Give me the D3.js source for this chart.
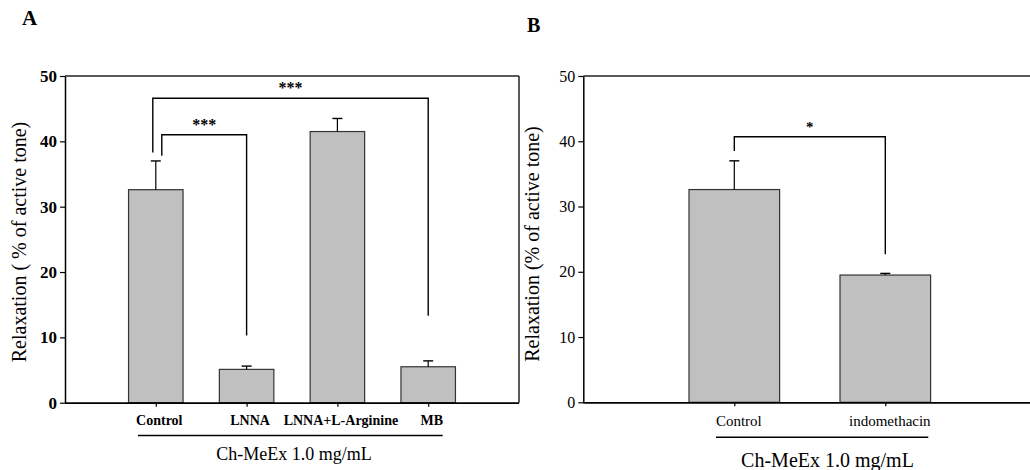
<!DOCTYPE html>
<html>
<head>
<meta charset="utf-8">
<script src="https://cdn.jsdelivr.net/npm/d3@7"></script>
<style>
  html, body { margin: 0; padding: 0; background: #fff; }
  svg { display: block; }
  text { font-family: "Liberation Serif", "Times New Roman", serif; fill: #000; }
</style>
</head>
<body>
<svg id="chart" width="1030" height="470"></svg>
<script>
// ---------- data ----------
const categoriesA = ["Control", "LNNA", "LNNA+L-Arginine", "MB"];
const meansA = [32.6, 5.1, 41.5, 5.5];
const errorsA = [4.4, 0.5, 2.0, 0.9];

const categoriesB = ["Control", "indomethacin"];
const meansB = [32.6, 19.5];
const errorsB = [4.4, 0.25];

const yTickValues = [0, 10, 20, 30, 40, 50];

// significance brackets: [fromIndex, toIndex, leftFoot, top, rightFoot, label]
const bracketsA = [
  [0, 1, 37.8, 41.0, 10.3, "***"],
  [0, 3, 38.3, 46.6, 13.3, "***"]
];
const bracketsB = [
  [0, 1, 38.5, 40.7, 22.7, "*"]
];

const groupLabel = "Ch-MeEx 1.0 mg/mL";

// ---------- drawing ----------
const svg = d3.select("#chart");
const serif = '"Liberation Serif", "Times New Roman", serif';

function panel(opts) {
  const g = svg.append("g");
  const x = d3.scalePoint().domain(opts.cats).range([opts.x0, opts.x1]).padding(1);
  const y = d3.scaleLinear().domain([0, 50]).range([opts.yBottom, opts.yTop]);
  const bw = opts.barWidth;

  // frame (top / right)
  g.append("line").attr("x1", opts.x0).attr("x2", opts.x1).attr("y1", y(50)).attr("y2", y(50))
    .attr("stroke", "#222").attr("stroke-width", 1.7);
  if (opts.rightFrame) {
    g.append("line").attr("x1", opts.x1).attr("x2", opts.x1).attr("y1", y(50)).attr("y2", y(0))
      .attr("stroke", "#222").attr("stroke-width", 1.5);
  }

  // bars
  const data = opts.cats.map((c, i) => ({ c, v: opts.means[i], e: opts.errs[i] }));
  g.selectAll("rect.bar").data(data).enter().append("rect")
    .attr("class", "bar")
    .attr("x", d => x(d.c) - bw / 2)
    .attr("width", bw)
    .attr("y", d => y(d.v))
    .attr("height", d => y(0) - y(d.v))
    .attr("fill", "#c0c0c0")
    .attr("stroke", "#333")
    .attr("stroke-width", 1.2);

  // error bars (upper only)
  g.selectAll("line.err").data(data).enter().append("line")
    .attr("x1", d => x(d.c)).attr("x2", d => x(d.c))
    .attr("y1", d => y(d.v)).attr("y2", d => y(d.v + d.e))
    .attr("stroke", "#000").attr("stroke-width", 1.2);
  g.selectAll("line.cap").data(data).enter().append("line")
    .attr("x1", d => x(d.c) - 5).attr("x2", d => x(d.c) + 5)
    .attr("y1", d => y(d.v + d.e)).attr("y2", d => y(d.v + d.e))
    .attr("stroke", "#000").attr("stroke-width", 1.4);

  // y axis
  const ya = g.append("g").attr("transform", `translate(${opts.x0},0)`)
    .call(d3.axisLeft(y).tickValues(yTickValues).tickSize(5).tickPadding(3).tickSizeOuter(0));
  ya.select(".domain").attr("stroke", "#000").attr("stroke-width", 1.5);
  ya.selectAll(".tick line").attr("stroke", "#000").attr("stroke-width", 1.2);
  ya.selectAll(".tick text").attr("font-family", serif).attr("font-size", opts.tickFont)
    .attr("font-weight", opts.bold ? "bold" : "normal").attr("fill", "#000");

  // x axis
  const xa = g.append("g").attr("transform", `translate(0,${y(0)})`)
    .call(d3.axisBottom(x).tickSize(4).tickPadding(6).tickSizeOuter(0));
  xa.select(".domain").attr("stroke", "#000").attr("stroke-width", 1.7)
    .attr("d", `M${opts.x0},0.5H${opts.x1}`);
  xa.selectAll(".tick line").attr("stroke", "#000").attr("stroke-width", 1.2);
  xa.selectAll(".tick text").attr("font-family", serif).attr("font-size", opts.catFont)
    .attr("font-weight", opts.bold ? "bold" : "normal").attr("fill", "#000")
    .attr("dy", null).attr("y", opts.catBaseline - y(0)).attr("dx", opts.catDx);

  // brackets
  opts.brackets.forEach((b, i) => {
    const xl = x(opts.cats[b[0]]) + opts.bracketOffsets[i];
    const xr = x(opts.cats[b[1]]);
    g.append("path")
      .attr("d", `M${xl},${y(b[2])}V${y(b[3])}H${xr}V${y(b[4])}`)
      .attr("fill", "none").attr("stroke", "#000").attr("stroke-width", 1.4);
    g.append("text").attr("x", (xl + xr) / 2).attr("y", y(b[3]) - 5)
      .attr("text-anchor", "middle").attr("font-size", opts.starFont).attr("font-weight", "bold")
      .text(b[5]);
  });

  // group underline + label
  g.append("line").attr("x1", opts.ulX0).attr("x2", opts.ulX1).attr("y1", opts.ulY).attr("y2", opts.ulY)
    .attr("stroke", "#000").attr("stroke-width", 1.4);
  g.append("text").attr("x", opts.groupX).attr("y", opts.groupY).attr("text-anchor", "middle")
    .attr("font-size", opts.groupFont).text(groupLabel);

  // y label
  g.append("text").attr("transform", `translate(${opts.ylabX},${opts.ylabY}) rotate(-90)`)
    .attr("text-anchor", "middle").attr("font-size", opts.ylabFont).text(opts.ylabel);

  // panel letter
  g.append("text").attr("x", opts.letterX).attr("y", opts.letterY).attr("font-size", opts.letterFont)
    .attr("font-weight", "bold").text(opts.letter);
}

panel({
  cats: categoriesA, means: meansA, errs: errorsA, brackets: bracketsA,
  bracketOffsets: [6, -3],
  x0: 65, x1: 519, yTop: 76, yBottom: 402.7, barWidth: 54.5, rightFrame: true,
  bold: true, tickFont: 17, catFont: 14, catBaseline: 425, catDx: 3, starFont: 16,
  ulX0: 138, ulX1: 442.7, ulY: 435.5, groupX: 294, groupY: 460, groupFont: 18,
  ylabel: "Relaxation ( % of active tone)", ylabX: 26, ylabY: 242, ylabFont: 20,
  letter: "A", letterX: 22, letterY: 25, letterFont: 21
});

panel({
  cats: categoriesB, means: meansB, errs: errorsB, brackets: bracketsB,
  bracketOffsets: [0],
  x0: 583.3, x1: 1036.3, yTop: 76, yBottom: 402.3, barWidth: 90.6, rightFrame: false,
  bold: false, tickFont: 16, catFont: 15, catBaseline: 426, catDx: 4, starFont: 15,
  ulX0: 716, ulX1: 928.3, ulY: 437.3, groupX: 827.5, groupY: 467, groupFont: 20,
  ylabel: "Relaxation (% of active tone)", ylabX: 539, ylabY: 244, ylabFont: 20,
  letter: "B", letterX: 527, letterY: 32, letterFont: 20
});
</script>
</body>
</html>
